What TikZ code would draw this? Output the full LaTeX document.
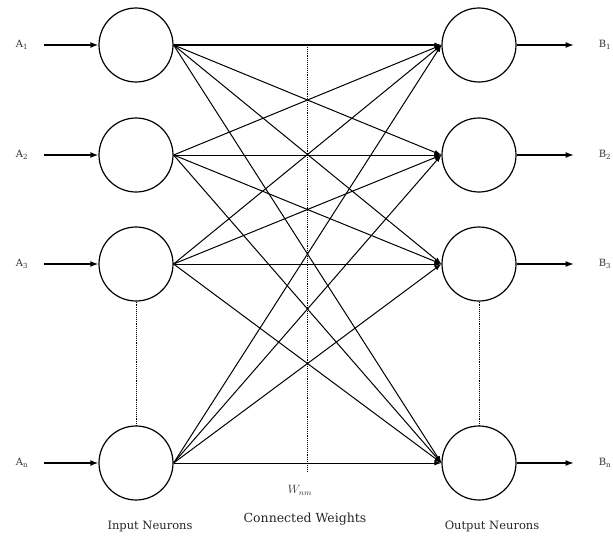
\documentclass[tikz,border=0pt]{standalone}
\usepackage{fontspec}
\setmainfont{DejaVu Serif}
\usetikzlibrary{arrows.meta}
\begin{document}
\begin{tikzpicture}[x=1pt,y=-1pt,
  neuron/.style={circle,draw,line width=1.2pt,minimum size=74pt,inner sep=0pt},
  conn/.style={line width=1pt,-{Latex[length=7pt,width=5pt]}},
  inarrow/.style={line width=1.5pt,-{Latex[length=8pt,width=6pt]}},
  outarrow/.style={line width=1.2pt,-{Latex[length=8pt,width=6pt]}},
  lbl/.style={font=\fontsize{10}{11}\selectfont,text=black!80},
  captext/.style={font=\fontsize{11.5}{13}\selectfont,text=black!85},
  dots/.style={densely dotted,line width=0.9pt}]
\useasboundingbox (0,0) rectangle (613,538);
\foreach \i/\y in {1/45,2/155,3/264,4/463}{
  \node[neuron] (I\i) at (136,\y) {};
  \node[neuron] (O\i) at (479,\y) {};
}
\node[lbl] (a1) at (22,45) {A\textsubscript{1}};
\node[lbl] (a2) at (22,155) {A\textsubscript{2}};
\node[lbl] (a3) at (22,264) {A\textsubscript{3}};
\node[lbl] (a4) at (22,463) {A\textsubscript{n}};
\node[lbl] (b1) at (605,45) {B\textsubscript{1}};
\node[lbl] (b2) at (605,155) {B\textsubscript{2}};
\node[lbl] (b3) at (605,264) {B\textsubscript{3}};
\node[lbl] (b4) at (605,463) {B\textsubscript{n}};
\foreach \i in {1,...,4}{
  \coordinate (ia\i) at ([xshift=-54pt]I\i.west);
  \draw[inarrow] (ia\i) -- (I\i.west);
  \coordinate (ob\i) at ([xshift=57pt]O\i.east);
  \draw[outarrow] (O\i.east) -- (ob\i);
  \foreach \j in {1,...,4}{
    \draw[conn] (I\i.east) -- (O\j.west);
  }
}
\draw[line width=1.7pt] (I1.east) -- ([xshift=-6pt]O1.west);
\draw[dots] (I3.south) -- (I4.north);
\draw[dots] (O3.south) -- (O4.north);
\coordinate (vt) at (307,45);
\coordinate (vb) at (307,472);
\draw[dots] (vt) -- (vb);
\node[font=\fontsize{12}{13}\selectfont,text=black!80] (w) at (300,490) {$W_{nm}$};
\node[captext,font=\fontsize{12.5}{14}\selectfont] (cw) at (305,519) {Connected Weights};
\node[captext] (in) at (150,526) {Input Neurons};
\node[captext] (on) at (492,526) {Output Neurons};
\end{tikzpicture}
\end{document}
